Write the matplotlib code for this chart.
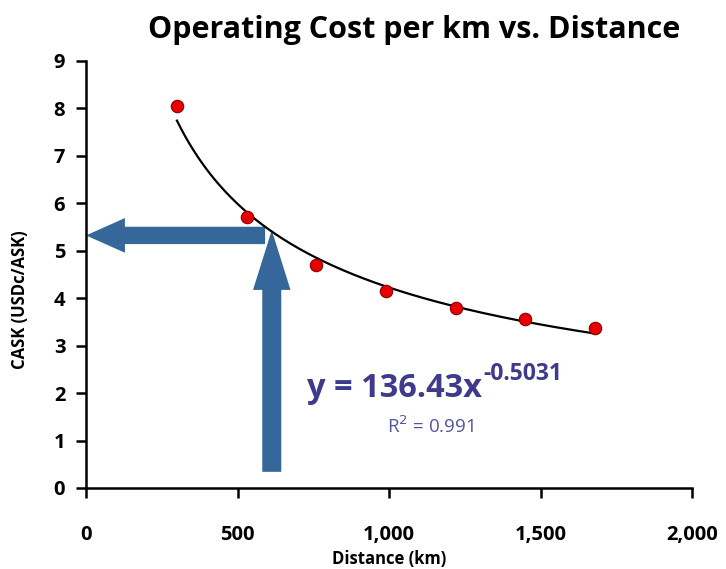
import matplotlib
matplotlib.use("Agg")
import matplotlib.pyplot as plt
import numpy as np
from matplotlib.ticker import FuncFormatter

# ---- data ----
distance_km = [300, 530, 760, 990, 1220, 1450, 1680]
cask_usdc = [8.05, 5.70, 4.70, 4.15, 3.80, 3.55, 3.37]
fit_a = 136.43
fit_b = -0.5031
fit_r2 = 0.991
x_ticks = [0, 500, 1000, 1500, 2000]
y_ticks = [0, 1, 2, 3, 4, 5, 6, 7, 8, 9]
# arrows marking a reading on the curve
read_x = 613
read_y = 5.32

plt.rcParams['font.family'] = ['Open Sans', 'DejaVu Sans']

fig = plt.figure(figsize=(7.26, 5.69), dpi=100)
ax = fig.add_axes([0.1185, 0.1424, 0.8347, 0.7509])

arrow_col = '#35679A'
# horizontal arrow
ax.annotate('', xy=(0, read_y), xytext=(591, read_y),
            arrowprops=dict(arrowstyle='simple,head_length=2.8,head_width=2.5,tail_width=1.25',
                            color=arrow_col, shrinkA=0, shrinkB=0, mutation_scale=10,
                            linewidth=0), zorder=2, annotation_clip=False)
# vertical arrow
ax.annotate('', xy=(read_x, 5.43), xytext=(read_x, 0.34),
            arrowprops=dict(arrowstyle='simple,head_length=4.3,head_width=2.7,tail_width=1.37',
                            color=arrow_col, shrinkA=0, shrinkB=0, mutation_scale=10,
                            linewidth=0), zorder=2)

# trend line
xs = np.linspace(min(distance_km), max(distance_km), 200)
ax.plot(xs, fit_a * xs ** fit_b, color='black', lw=1.6, zorder=3)

ax.scatter(distance_km, cask_usdc, s=80, color='#E80000', edgecolor='#8B0000',
           linewidth=0.8, zorder=4)

ax.set_xlim(0, 2000)
ax.set_ylim(0, 9)
ax.set_xticks(x_ticks)
ax.set_yticks(y_ticks)
ax.xaxis.set_major_formatter(FuncFormatter(lambda v, p: f'{int(v):,}'))
for s in ['top', 'right']:
    ax.spines[s].set_visible(False)
for s in ['left', 'bottom']:
    ax.spines[s].set_linewidth(1.8)
ax.tick_params(axis='both', direction='out', length=7, width=1.8, labelsize=14.5)
ax.tick_params(axis='x', pad=20)
ax.tick_params(axis='y', pad=8)
for lab in ax.get_xticklabels() + ax.get_yticklabels():
    lab.set_fontweight('bold')

ax.set_xlabel('Distance (km)', fontsize=12, fontweight='bold', labelpad=3)
ax.set_ylabel('CASK (USDc/ASK)', fontsize=12, fontweight='bold')
ax.yaxis.set_label_coords(-0.094, 0.44)

fig.text(0.570, 0.947, 'Operating Cost per km vs. Distance', ha='center', va='center',
         fontsize=22, fontweight='bold')

eq = ax.text(730, 1.92, f'y = {fit_a}x', fontsize=23.5, fontweight='bold',
             color='#3F3A8C', ha='left', va='baseline', zorder=5)
ax.annotate(f'{fit_b}', xy=(1, 1), xycoords=eq, xytext=(0.5, 7), textcoords='offset points',
            fontsize=16.5, fontweight='bold', color='#3F3A8C', ha='left', va='top', zorder=5)
ax.text(1138, 1.15, r'R$^2$ = ' + f'{fit_r2}', fontsize=13.5, color='#55559A',
        ha='center', va='baseline', zorder=5)

fig.savefig('out.png', dpi=100)
